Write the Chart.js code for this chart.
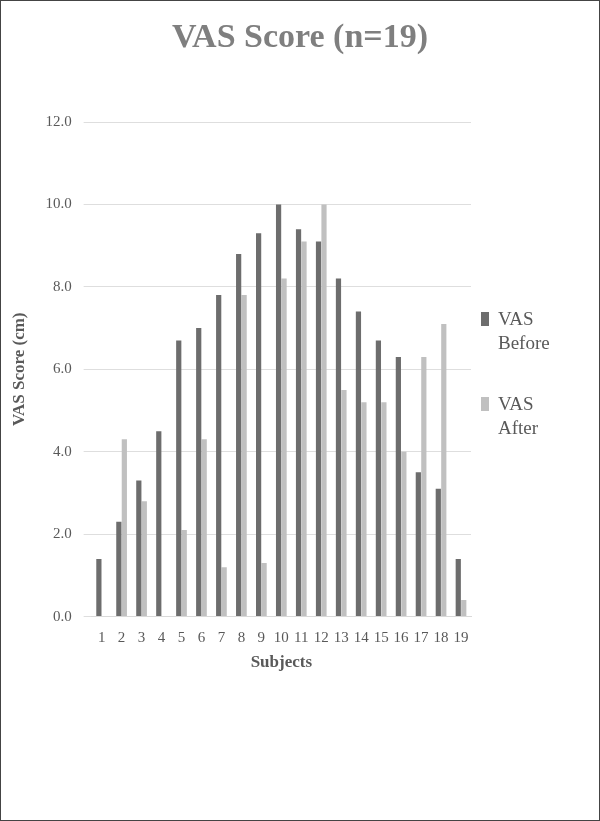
<!DOCTYPE html>
<html><head>
<script src="https://cdn.jsdelivr.net/npm/chart.js@4"></script>
<style>
body{margin:0;background:#fff}
#wrap{position:relative;width:598px;height:819px;border:1px solid #444}
#ttl{position:absolute;left:0;width:598px;top:16px;text-align:center;font:bold 34px 'Liberation Serif',serif;color:#7f7f7f}
.lg{position:absolute;left:480px;font:19px 'Liberation Serif',serif;color:#595959;line-height:24px}
.lg span{position:absolute;left:0;top:5px;width:8px;height:14px}
.lg div{margin-left:17px}
</style>
</head><body>
<div id="wrap">
<canvas id="vas" width="598" height="819"></canvas>
<div id="ttl">VAS Score (n=19)</div>
<div class="lg" style="top:306px"><span style="background:#6d6d6d"></span><div>VAS<br>Before</div></div>
<div class="lg" style="top:391px"><span style="background:#c0c0c0"></span><div>VAS<br>After</div></div>
</div>
<script>
var subjects = ["1","2","3","4","5","6","7","8","9","10","11","12","13","14","15","16","17","18","19"];
var vasBefore = [1.4,2.3,3.3,4.5,6.7,7.0,7.8,8.8,9.3,10.0,9.4,9.1,8.2,7.4,6.7,6.3,3.5,3.1,1.4];
var vasAfter = [0,4.3,2.8,0,2.1,4.3,1.2,7.8,1.3,8.2,9.1,10.0,5.5,5.2,5.2,4.0,6.3,7.1,0.4];

var serif = "'Liberation Serif', 'Times New Roman', serif";
var ctx = document.getElementById('vas');
var myChart = new Chart(ctx, {
    type: 'bar',
    data: {
        labels: subjects,
        datasets: [{
            label: "VAS Before",
            data: vasBefore,
            backgroundColor: "#6d6d6d"
        },{
            label: "VAS After",
            data: vasAfter,
            backgroundColor: "#c0c0c0"
        }]
    },
    options: {
        responsive: false,
        animation: false,
        layout: {padding: {left: 4, right: 128, top: 121, bottom: 145}},
        datasets: {bar: {categoryPercentage: 0.55, barPercentage: 0.95}},
        plugins: {
            legend: {display: false},
            tooltip: {enabled: false}
        },
        scales: {
            x: {
                grid: {display: false},
                border: {color: "#d9d9d9"},
                ticks: {color: "#595959", font: {family: serif, size: 15}, maxRotation: 0, autoSkip: false, padding: 4},
                title: {display: true, text: "Subjects", color: "#595959", font: {family: serif, size: 17, weight: 'bold'}, padding: 2}
            },
            y: {
                min: 0, max: 12,
                ticks: {stepSize: 2, color: "#595959", font: {family: serif, size: 15}, padding: 12,
                    callback: function(v) {return v.toFixed(1)}},
                grid: {color: "#dedede"},
                border: {display: false},
                title: {display: true, text: "VAS Score (cm)", color: "#595959", font: {family: serif, size: 17, weight: 'bold'}}
            }
        }
    }
});
</script>
</body></html>
